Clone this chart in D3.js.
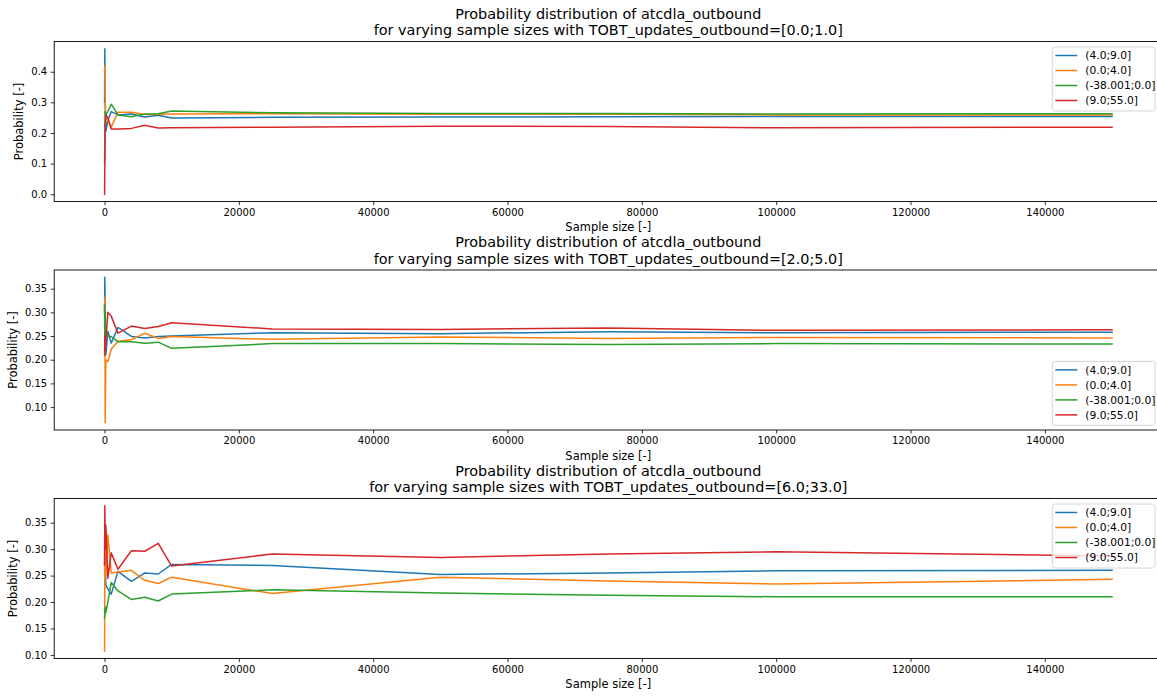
<!DOCTYPE html>
<html>
<head>
<meta charset="utf-8">
<script src="https://cdn.jsdelivr.net/npm/d3@7"></script>
<style>
  html, body { margin: 0; padding: 0; background: #fff; }
  svg { display: block; }
</style>
</head>
<body>
<script>
// ---------- DATA ----------
const sampleSizes = [10, 50, 100, 200, 500, 1000, 2000, 4000, 6000, 8000, 10000, 25000, 50000, 75000, 100000, 150000];
const seriesNames = ["(4.0;9.0]", "(0.0;4.0]", "(-38.001;0.0]", "(9.0;55.0]"];
const seriesColors = ["#1f77b4", "#ff7f0e", "#2ca02c", "#d62728"];

const panelTitles = [
  "TOBT_updates_outbound=[0.0;1.0]",
  "TOBT_updates_outbound=[2.0;5.0]",
  "TOBT_updates_outbound=[6.0;33.0]"
];

// Panel 1: TOBT_updates_outbound=[0.0;1.0]
const p1_bin4_9     = [0.30, 0.475, 0.30, 0.205, 0.24, 0.270, 0.259, 0.262, 0.252, 0.258, 0.249, 0.251, 0.252, 0.253, 0.254, 0.254];
const p1_bin0_4     = [0.40, 0.420, 0.30, 0.250, 0.24, 0.219, 0.268, 0.268, 0.260, 0.261, 0.262, 0.263, 0.261, 0.261, 0.259, 0.259];
const p1_binNeg38_0 = [0.10, 0.200, 0.27, 0.260, 0.27, 0.294, 0.259, 0.253, 0.262, 0.263, 0.272, 0.266, 0.264, 0.264, 0.262, 0.263];
const p1_bin9_55    = [0.00, 0.100, 0.22, 0.260, 0.25, 0.213, 0.213, 0.215, 0.225, 0.216, 0.217, 0.219, 0.222, 0.221, 0.217, 0.219];

// Panel 2: TOBT_updates_outbound=[2.0;5.0]
const p2_bin4_9     = [0.30, 0.374, 0.30, 0.210, 0.260, 0.235, 0.268, 0.249, 0.246, 0.249, 0.250, 0.257, 0.255, 0.259, 0.257, 0.258];
const p2_bin0_4     = [0.30, 0.332, 0.067, 0.200, 0.196, 0.222, 0.239, 0.242, 0.256, 0.245, 0.249, 0.243, 0.248, 0.245, 0.247, 0.246];
const p2_binNeg38_0 = [0.315, 0.210, 0.30, 0.250, 0.250, 0.249, 0.238, 0.238, 0.235, 0.237, 0.224, 0.234, 0.234, 0.232, 0.234, 0.233];
const p2_bin9_55    = [0.21, 0.250, 0.22, 0.240, 0.300, 0.292, 0.256, 0.271, 0.266, 0.270, 0.278, 0.265, 0.264, 0.267, 0.262, 0.263];

// Panel 3: TOBT_updates_outbound=[6.0;33.0]
const p3_bin4_9     = [0.27, 0.308, 0.27, 0.232, 0.225, 0.215, 0.258, 0.239, 0.255, 0.253, 0.271, 0.269, 0.252, 0.255, 0.259, 0.260];
const p3_bin0_4     = [0.107, 0.27, 0.30, 0.250, 0.327, 0.255, 0.257, 0.260, 0.241, 0.235, 0.247, 0.216, 0.247, 0.240, 0.234, 0.243];
const p3_binNeg38_0 = [0.17, 0.185, 0.19, 0.180, 0.200, 0.237, 0.221, 0.205, 0.209, 0.202, 0.215, 0.223, 0.217, 0.213, 0.210, 0.210];
const p3_bin9_55    = [0.27, 0.382, 0.30, 0.345, 0.245, 0.293, 0.262, 0.297, 0.296, 0.311, 0.268, 0.291, 0.284, 0.291, 0.295, 0.287];

const xTicks = [0, 20000, 40000, 60000, 80000, 100000, 120000, 140000];
const p1_yTicks = [0.0, 0.1, 0.2, 0.3, 0.4];
const p2_yTicks = [0.10, 0.15, 0.20, 0.25, 0.30, 0.35];
const p3_yTicks = [0.10, 0.15, 0.20, 0.25, 0.30, 0.35];

const panels = [
  { title: panelTitles[0], series: [p1_bin4_9, p1_bin0_4, p1_binNeg38_0, p1_bin9_55], yTicks: p1_yTicks, fmt: ".1f", legend: "top" },
  { title: panelTitles[1], series: [p2_bin4_9, p2_bin0_4, p2_binNeg38_0, p2_bin9_55], yTicks: p2_yTicks, fmt: ".2f", legend: "bottom" },
  { title: panelTitles[2], series: [p3_bin4_9, p3_bin0_4, p3_binNeg38_0, p3_bin9_55], yTicks: p3_yTicks, fmt: ".2f", legend: "top" }
];

// ---------- LAYOUT ----------
const W = 1157, H = 697;
const left = 54.2, right = 1162.4;
const tops = [41.5, 270, 498.5];
const axH = 160;
const FONT = "DejaVu Sans, sans-serif";

const svg = d3.select("body").append("svg")
  .attr("width", W).attr("height", H)
  .style("font-family", FONT);

const xMin = d3.min(sampleSizes), xMax = d3.max(sampleSizes);
const xPad = (xMax - xMin) * 0.05;
const x = d3.scaleLinear().domain([xMin - xPad, xMax + xPad]).range([left, right]);

panels.forEach((p, i) => {
  const top = tops[i], bottom = top + axH;
  const all = p.series.flat();
  const yMin = d3.min(all), yMax = d3.max(all);
  const yPad = (yMax - yMin) * 0.05;
  const y = d3.scaleLinear().domain([yMin - yPad, yMax + yPad]).range([bottom, top]);

  const g = svg.append("g");

  const clipId = "clip" + i;
  svg.append("defs").append("clipPath").attr("id", clipId)
    .append("rect").attr("x", left).attr("y", top).attr("width", right - left).attr("height", axH);

  const line = d3.line().x((d, j) => x(sampleSizes[j])).y(d => y(d));
  const lg = g.append("g").attr("clip-path", `url(#${clipId})`);
  p.series.forEach((s, k) => {
    lg.append("path").datum(s)
      .attr("d", line)
      .attr("fill", "none")
      .attr("stroke", seriesColors[k])
      .attr("stroke-width", 1.5)
      .attr("stroke-linejoin", "round")
      .attr("stroke-linecap", "square");
  });

  const xAxis = d3.axisBottom(x).tickValues(xTicks).tickSize(3.5).tickPadding(3.5).tickFormat(d3.format("d"));
  const yAxis = d3.axisLeft(y).tickValues(p.yTicks).tickSize(3.5).tickPadding(3.5).tickFormat(d3.format(p.fmt));

  const gx = g.append("g").attr("transform", `translate(0,${bottom})`).call(xAxis);
  const gy = g.append("g").attr("transform", `translate(${left},0)`).call(yAxis);
  [gx, gy].forEach(a => {
    a.select(".domain").remove();
    a.selectAll("text").attr("font-size", 10).attr("font-family", FONT).attr("fill", "#000");
    a.selectAll("line").attr("stroke", "#000").attr("stroke-width", 0.8);
  });

  g.append("rect").attr("x", left).attr("y", top).attr("width", right - left).attr("height", axH)
    .attr("fill", "none").attr("stroke", "#000").attr("stroke-width", 0.9);

  g.append("text").attr("x", (left + right) / 2).attr("y", bottom + 29.5)
    .attr("text-anchor", "middle").attr("font-size", 11.5).text("Sample size [-]");

  const bb = gy.node().getBBox();
  const labelX = left + bb.x - 8;
  g.append("text")
    .attr("transform", `translate(${labelX},${(top + bottom) / 2}) rotate(-90)`)
    .attr("text-anchor", "middle").attr("font-size", 11.5).text("Probability [-]");

  const cx = (left + right) / 2;
  g.append("text").attr("x", cx).attr("y", top - 23)
    .attr("text-anchor", "middle").attr("font-size", 14.4).text("Probability distribution of atcdla_outbound");
  g.append("text").attr("x", cx).attr("y", top - 6.5)
    .attr("text-anchor", "middle").attr("font-size", 14.4).text("for varying sample sizes with " + p.title);

  const lgW = 102.7, lgH = 64;
  const lgX = right - 7.4 - lgW;
  const lgY = p.legend === "top" ? top + 5.5 : bottom - 4.6 - lgH;
  const leg = g.append("g");
  leg.append("rect").attr("x", lgX).attr("y", lgY).attr("width", lgW).attr("height", lgH)
    .attr("rx", 2.5).attr("ry", 2.5)
    .attr("fill", "#fff").attr("fill-opacity", 0.8)
    .attr("stroke", "#cccccc").attr("stroke-width", 0.8);
  seriesNames.forEach((name, k) => {
    const cy = lgY + 8.5 + k * 15;
    leg.append("line").attr("x1", lgX + 3).attr("x2", lgX + 25).attr("y1", cy).attr("y2", cy)
      .attr("stroke", seriesColors[k]).attr("stroke-width", 1.5);
    leg.append("text").attr("x", lgX + 33).attr("y", cy + 3.8)
      .attr("font-size", 10.7).text(name);
  });
});
</script>
</body>
</html>
